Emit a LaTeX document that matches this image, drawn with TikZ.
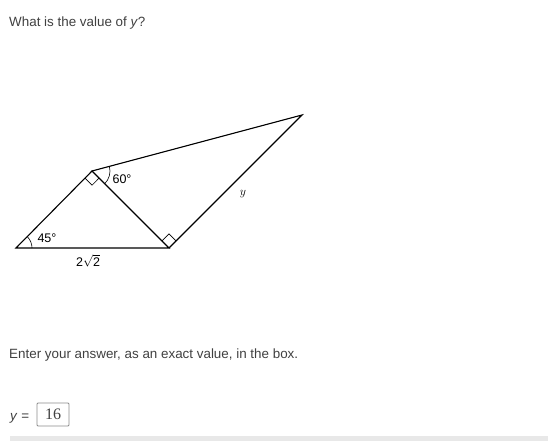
\documentclass[tikz,border=0pt]{standalone}
\usepackage{fontspec}
\setmainfont{Liberation Sans}
\newfontfamily\answerfont{Liberation Serif}
\usetikzlibrary{positioning,calc}
\definecolor{textgray}{HTML}{404040}
\definecolor{boxgray}{HTML}{8C8C8C}
\definecolor{bargray}{HTML}{E8E8E8}

\tikzset{
  prose/.style={anchor=base west,text=textgray,inner sep=0pt,font=\fontsize{13.4}{15}\selectfont},
  anglelabel/.style={inner sep=0pt,font=\fontsize{12.5}{14}\selectfont},
  edge/.style={line width=1.1pt,line join=miter},
  thinmark/.style={line width=0.6pt},
}

\begin{document}
\begin{tikzpicture}[x=1pt,y=1pt]
  \useasboundingbox (0,0) rectangle (548,-441);
  % question
  \node[prose] (question) at (9,-27) {What is the value of \textit{y}?};
  % figure
  \coordinate (A) at (16,-248);
  \coordinate (B) at (169,-248);
  \coordinate (C) at (92,-171);
  \coordinate (D) at (302,-115);
  \draw[edge] (A) -- (B) -- (C) -- cycle;
  \draw[edge] (C) -- (D) -- (B);
  % right angles
  \draw[thinmark] ($(C)!10pt!(A)$) -- ++($(C)!10pt!(B)-(C)$) -- ($(C)!10pt!(B)$);
  \draw[thinmark] ($(B)!10pt!(C)$) -- ++($(B)!10pt!(D)-(B)$) -- ($(B)!10pt!(D)$);
  % angle arcs
  \draw[thinmark] ([shift={(0:16)}]A) arc (0:45:16);
  \draw[thinmark] ([shift={(14.9:18)}]C) arc (14.9:-45:18);
  % labels
  \node[anglelabel] (a45) at (47,-238) {45°};
  \node[anglelabel] (a60) at (122,-179) {60°};
  \node[anglelabel] (base) at (88,-261) {2$\sqrt{\mbox{2}}$};
  \node[anglelabel] (ylab) at (243,-194) {$y$};
  % answer
  \node[prose] (enter) at (9,-358) {Enter your answer, as an exact value, in the box.};
  \node[prose] (yeq) at (10,-420) {\textit{y} =};
  \node[draw=boxgray,line width=0.8pt,rounded corners=1pt,minimum width=32pt,minimum height=23pt,
        inner sep=0pt,text=textgray,font=\answerfont\fontsize{16}{18}\selectfont]
        (answer) at (53,-414.5) {16};
  \fill[bargray] (10,-436) rectangle (548,-441);
\end{tikzpicture}
\end{document}
